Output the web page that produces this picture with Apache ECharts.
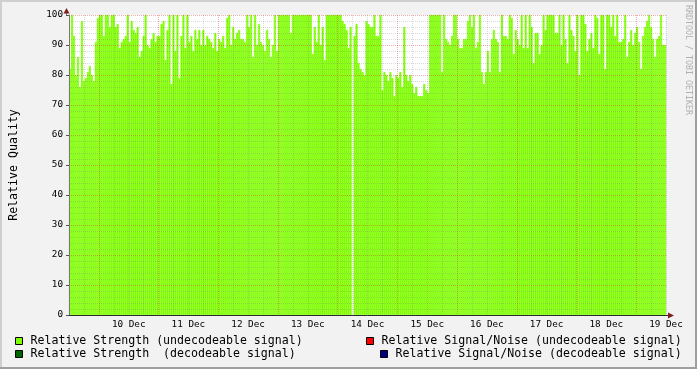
<!DOCTYPE html>
<html><head><meta charset="utf-8">
<script src="https://cdn.jsdelivr.net/npm/echarts@6/dist/echarts.min.js"></script>
<style>html,body{margin:0;padding:0;background:#f2f2f2}#c{width:697px;height:369px}</style>
</head><body><div id="c"></div>
<script>
// Relative Strength (undecodeable signal), one value per 48 minutes
const dec09pm = [82,100,93,80,86,76,98,78,79,81,83,80,78,91,99];
const dec10 = [100,100,93,100,100,96,100,100,96,97,89,91,92,93,100,91,98,95,94,96,86,88,93,100,90,89,92,94,91,93];
const dec11 = [93,97,98,85,95,100,77,100,88,100,79,93,100,89,100,91,93,88,95,92,95,90,95,90,93,92,91,89,94,88];
const dec12 = [92,91,93,89,99,100,90,96,92,94,95,92,92,91,100,96,100,86,100,90,97,91,90,88,95,92,86,90,100,88];
const dec13 = [100,100,100,100,100,100,94,100,100,100,100,100,100,100,100,100,100,87,96,91,100,90,96,85,100,100,100,100,100,100];
const dec14 = [100,100,98,97,95,89,96,null,93,97,84,82,81,80,98,97,96,96,100,93,93,100,75,81,80,78,81,79,73,80];
const dec15 = [79,81,76,96,80,78,80,77,74,76,73,73,73,77,75,74,100,100,100,100,100,100,81,100,92,91,90,93,100,100];
const dec16 = [92,89,89,92,92,98,100,96,100,89,91,100,81,77,81,88,81,92,95,92,91,81,100,93,93,92,100,99,87,95];
const dec17 = [92,90,100,89,100,89,100,96,84,94,94,87,90,100,95,100,100,100,100,94,94,100,90,100,92,84,100,95,93,88];
const dec18 = [100,80,100,100,97,88,92,94,89,100,99,87,100,100,82,100,100,96,100,93,100,91,91,92,100,86,91,95,90,94];
const dec19am = [96,91,82,93,96,98,100,96,92,86,92,93,100,90,90];

const strength = [].concat(dec09pm, dec10, dec11, dec12, dec13, dec14, dec15, dec16, dec17, dec18, dec19am);
const startHour = -12;      // hours relative to 10 Dec 00:00
const hoursPerStep = 0.8;
const dayLabels = ['10 Dec','11 Dec','12 Dec','13 Dec','14 Dec','15 Dec','16 Dec','17 Dec','18 Dec','19 Dec'];
const seriesNames = [
  'Relative Strength (undecodeable signal)',
  'Relative Strength  (decodeable signal)',
  'Relative Signal/Noise (undecodeable signal)',
  'Relative Signal/Noise (decodeable signal)'
];
const seriesColors = ['#7FFF00', '#006400', '#FF0000', '#000080'];

const categories = strength.map((_, i) => {
  const h = startHour + i * hoursPerStep;
  const d = 10 + Math.floor(h / 24);
  const hh = ((h % 24) + 24) % 24;
  return d + ' Dec ' + Math.floor(hh) + ':' + String(Math.round((hh % 1) * 60)).padStart(2, '0');
});

const mono = 'DejaVu Sans Mono';
const gray = 'rgba(120,120,120,0.28)';
const red = 'rgba(220,40,40,0.38)';

const chart = echarts.init(document.getElementById('c'), null, {renderer: 'canvas'});
const legendCommon = {
  padding: 0, icon: 'rect', itemWidth: 7, itemHeight: 7, selectedMode: false,
  itemStyle: {borderColor: '#000', borderWidth: 1},
  textStyle: {fontFamily: mono, fontSize: 11.6, color: '#000', lineHeight: 14, padding: [0, 0, 0, 3]}
};
chart.setOption({
  animation: false,
  backgroundColor: '#f2f2f2',
  grid: {left: 66, top: 15, width: 600, height: 300, show: true, backgroundColor: '#fff', borderWidth: 0},
  legend: [
    Object.assign({data: [seriesNames[0]], left: 15, top: 334}, legendCommon),
    Object.assign({data: [seriesNames[1]], left: 15, top: 347}, legendCommon),
    Object.assign({data: [seriesNames[2]], left: 366, top: 334}, legendCommon),
    Object.assign({data: [seriesNames[3]], left: 380, top: 347}, legendCommon)
  ],
  xAxis: [
    {type: 'category', data: categories, show: false, boundaryGap: true},
    {type: 'value', min: startHour, max: startHour + 240, interval: 6, position: 'bottom', z: 3,
     axisLine: {show: true, onZero: false, lineStyle: {color: '#2a2a2a', width: 1}},
     axisTick: {show: false},
     axisLabel: {fontFamily: mono, fontSize: 9.3, color: '#000', margin: 5,
       formatter: v => { const k = (v - 12) / 24; return (Number.isInteger(k) && k >= 0 && k < dayLabels.length) ? dayLabels[k] : ''; }},
     splitLine: {show: true, lineStyle: {color: [gray, gray, red, gray], type: [1, 1], width: 1}}
    }
  ],
  yAxis: {
    type: 'value', min: 0, max: 100, interval: 10, z: 3,
    name: 'Relative Quality', nameLocation: 'middle', nameRotate: 90, nameGap: 49,
    nameTextStyle: {fontFamily: mono, fontSize: 11.6, color: '#000'},
    axisLine: {show: true, onZero: false, lineStyle: {color: '#777'}},
    axisTick: {show: true, length: 3, lineStyle: {color: '#555'}},
    axisLabel: {fontFamily: mono, fontSize: 9.3, color: '#000', margin: 6},
    splitLine: {show: true, lineStyle: {color: red, type: [1, 1], width: 1}},
    minorTick: {show: false, splitNumber: 5},
    minorSplitLine: {show: true, lineStyle: {color: gray, type: [1, 1], width: 1}}
  },
  series: seriesNames.map((n, k) => ({
    type: 'bar', name: n, xAxisIndex: 0, stack: 'q',
    data: k === 0 ? strength : [],
    itemStyle: {color: seriesColors[k], borderColor: seriesColors[k], borderWidth: 0.6},
    barCategoryGap: '0%', barGap: '0%', z: 2
  })),
  graphic: [
    {type: 'rect', shape: {x: 0, y: 0, width: 697, height: 2}, style: {fill: '#cfcfcf'}, silent: true},
    {type: 'rect', shape: {x: 0, y: 0, width: 2, height: 369}, style: {fill: '#cfcfcf'}, silent: true},
    {type: 'rect', shape: {x: 0, y: 367, width: 697, height: 2}, style: {fill: '#9e9e9e'}, silent: true},
    {type: 'rect', shape: {x: 695, y: 0, width: 2, height: 369}, style: {fill: '#9e9e9e'}, silent: true},
    {type: 'line', shape: {x1: 66.5, y1: 15, x2: 66.5, y2: 11}, style: {stroke: '#777', lineWidth: 1}, silent: true},
    {type: 'line', shape: {x1: 666, y1: 315.5, x2: 669, y2: 315.5}, style: {stroke: '#2a2a2a', lineWidth: 1}, silent: true},
    {type: 'polygon', shape: {points: [[63.5, 13.5], [69.5, 13.5], [66.5, 8]]}, style: {fill: '#801f1f'}, silent: true},
    {type: 'polygon', shape: {points: [[668, 312.5], [668, 318.5], [674, 315.5]]}, style: {fill: '#801f1f'}, silent: true},
    {type: 'text', x: 692, y: 5, rotation: -Math.PI / 2, silent: true,
     style: {text: 'RRDTOOL / TOBI OETIKER', font: '8.3px "DejaVu Sans Mono"', fill: '#b0b0b0', verticalAlign: 'top', align: 'left'}}
  ]
});
</script></body></html>
